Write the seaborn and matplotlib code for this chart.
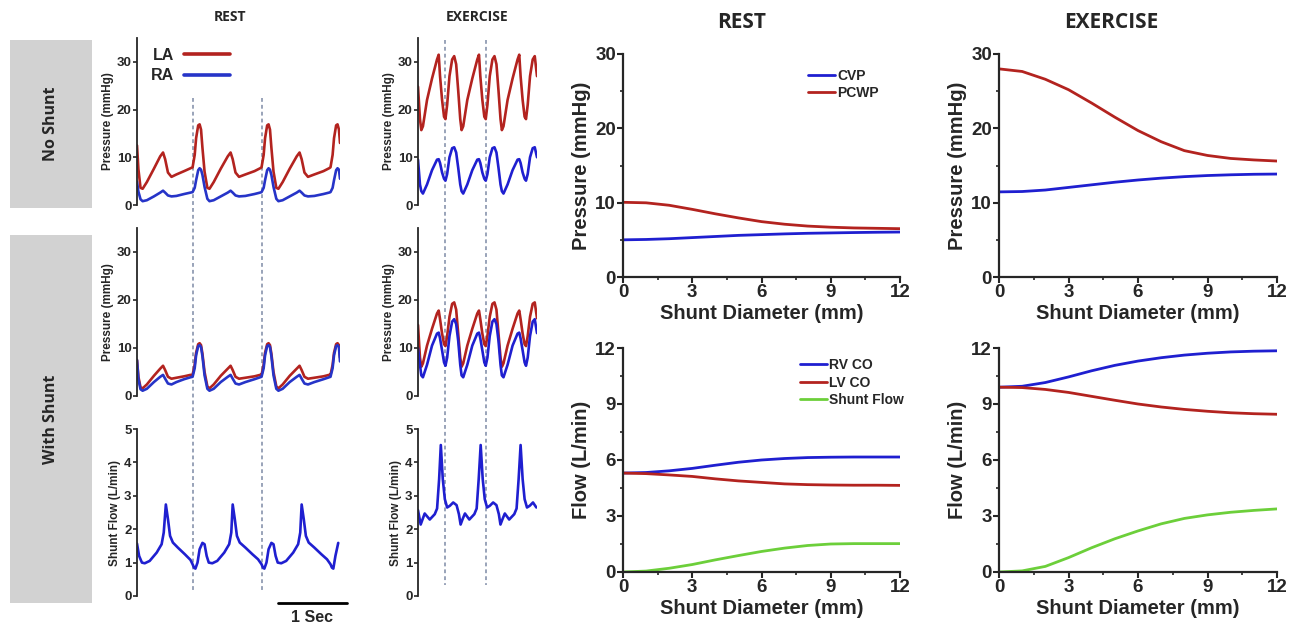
import matplotlib
matplotlib.use("Agg")
import matplotlib.pyplot as plt
import seaborn as sns
import numpy as np
from matplotlib.patches import Rectangle
from matplotlib.ticker import MultipleLocator

# ---------------- data ----------------
# REST waveforms (time in s)
rest_t = [0, .02, .05, .08, .14, .24, .33, .37, .40, .44, .49, .56, .67, .76,
          0.79, 0.82, 0.84, 0.87, 0.89, 0.91, 0.93, 0.96, 1.00, 1.03, 1.09, 1.19, 1.29, 1.33, 1.36, 1.40, 1.45, 1.54, 1.67, 1.75,
          1.77, 1.80, 1.82, 1.85, 1.87, 1.89, 1.91, 1.94, 1.98, 2.01, 2.07, 2.17, 2.27, 2.31, 2.34, 2.38, 2.43, 2.52, 2.65, 2.73,
          2.75, 2.78, 2.80, 2.83, 2.85, 2.87, 2.885]
rest_la_noshunt = [12.5, 7.5, 3.6, 3.4, 4.8, 7.6, 10.2, 11.0, 9.6, 6.8, 5.9, 6.4, 7.1, 7.7,
                   7.9, 10.5, 14.0, 16.7, 16.9, 15.8, 12.0, 7.0, 3.6, 3.4, 4.8, 7.6, 10.2, 11.0, 9.6, 6.8, 5.9, 6.4, 7.1, 7.7,
                   7.9, 10.5, 14.0, 16.7, 16.9, 15.8, 12.0, 7.0, 3.6, 3.4, 4.8, 7.6, 10.2, 11.0, 9.6, 6.8, 5.9, 6.4, 7.1, 7.7,
                   7.9, 10.5, 14.0, 16.7, 16.9, 15.8, 13.0]
rest_ra_noshunt = [4.9, 2.8, 1.2, 0.8, 1.0, 1.8, 2.6, 3.0, 2.6, 2.0, 1.8, 1.9, 2.3, 2.6,
                   2.7, 3.6, 5.2, 7.3, 7.7, 7.4, 6.3, 3.8, 1.3, 0.8, 1.0, 1.8, 2.6, 3.0, 2.6, 2.0, 1.8, 1.9, 2.3, 2.6,
                   2.7, 3.6, 5.2, 7.3, 7.7, 7.4, 6.3, 3.8, 1.3, 0.8, 1.0, 1.8, 2.6, 3.0, 2.6, 2.0, 1.8, 1.9, 2.3, 2.6,
                   2.7, 3.6, 5.2, 7.3, 7.7, 7.4, 5.5]
rest_la_shunt = [7.5, 4.0, 1.8, 1.6, 2.4, 4.2, 5.7, 6.3, 5.4, 4.0, 3.6, 3.8, 4.1, 4.4,
                 4.4, 6.5, 9.0, 10.8, 11.0, 10.6, 8.8, 5.0, 2.0, 1.6, 2.4, 4.2, 5.7, 6.3, 5.4, 4.0, 3.6, 3.8, 4.1, 4.4,
                 4.4, 6.5, 9.0, 10.8, 11.0, 10.6, 8.8, 5.0, 2.0, 1.6, 2.4, 4.2, 5.7, 6.3, 5.4, 4.0, 3.6, 3.8, 4.1, 4.4,
                 4.4, 6.5, 9.0, 10.8, 11.0, 10.6, 8.0]
rest_ra_shunt = [7.5, 3.5, 1.4, 1.1, 1.5, 2.9, 4.0, 4.4, 3.6, 2.6, 2.4, 2.9, 3.5, 3.9,
                 4.0, 5.8, 8.5, 10.4, 10.6, 10.2, 8.3, 4.3, 1.5, 1.1, 1.5, 2.9, 4.0, 4.4, 3.6, 2.6, 2.4, 2.9, 3.5, 3.9,
                 4.0, 5.8, 8.5, 10.4, 10.6, 10.2, 8.3, 4.3, 1.5, 1.1, 1.5, 2.9, 4.0, 4.4, 3.6, 2.6, 2.4, 2.9, 3.5, 3.9,
                 4.0, 5.8, 8.5, 10.4, 10.6, 10.2, 7.2]
rest_flow_t = [0, .03, .07, .11, .18, .28, .35, .38, .41, .44, .47, .51, .58, .68, .76,
               0.79, 0.81, 0.83, 0.86, 0.89, 0.93, 0.96, 0.99, 1.02, 1.07, 1.14, 1.24, 1.31, 1.34, 1.36, 1.39, 1.42, 1.46, 1.54, 1.64, 1.72,
               1.77, 1.79, 1.81, 1.84, 1.87, 1.91, 1.94, 1.97, 2.00, 2.05, 2.12, 2.22, 2.29, 2.32, 2.34, 2.37, 2.40, 2.44, 2.52, 2.62, 2.70,
               2.75, 2.77, 2.79, 2.82, 2.86]
rest_flow = [1.57, 1.2, 1.0, 0.98, 1.05, 1.3, 1.55, 1.9, 2.74, 2.3, 1.8, 1.6, 1.45, 1.25, 1.08,
             0.95, 0.85, 0.82, 1.0, 1.40, 1.59, 1.55, 1.2, 1.0, 0.98, 1.05, 1.3, 1.55, 1.9, 2.74, 2.3, 1.8, 1.6, 1.45, 1.25, 1.1,
             0.95, 0.85, 0.82, 1.0, 1.40, 1.59, 1.55, 1.2, 1.0, 0.98, 1.05, 1.3, 1.55, 1.9, 2.74, 2.3, 1.8, 1.6, 1.45, 1.25, 1.1,
             0.95, 0.85, 0.82, 1.2, 1.59]
rest_dashes = [0.79, 1.77]

# EXERCISE waveforms
ex_t = [0.000, 0.028, 0.047, 0.070, 0.128, 0.199, 0.270, 0.294, 0.313, 0.342, 0.370,
        0.390, 0.414, 0.447, 0.485, 0.514, 0.542, 0.571, 0.600, 0.619, 0.642, 0.700, 0.771, 0.842, 0.866, 0.885, 0.914, 0.942,
        0.962, 0.986, 1.019, 1.057, 1.086, 1.114, 1.143, 1.172, 1.191, 1.214, 1.272, 1.343, 1.414, 1.438, 1.457, 1.486, 1.514,
        1.534, 1.558, 1.591, 1.629, 1.658, 1.690]
ex_la_noshunt = [24.8, 18.0, 15.7, 16.5, 22.0, 26.5, 30.5, 31.5, 27.0, 22.0, 18.5,
                 18.0, 21.0, 27.0, 30.5, 31.2, 29.5, 24.0, 18.0, 15.7, 16.5, 22.0, 26.5, 30.5, 31.5, 27.0, 22.0, 18.5,
                 18.0, 21.0, 27.0, 30.5, 31.2, 29.5, 24.0, 18.0, 15.7, 16.5, 22.0, 26.5, 30.5, 31.5, 27.0, 22.0, 18.5,
                 18.0, 21.0, 27.0, 30.5, 31.2, 27.0]
ex_ra_noshunt = [9.5, 4.3, 2.9, 2.4, 4.3, 7.3, 9.5, 9.6, 8.8, 6.8, 5.5,
                 5.1, 6.5, 10.0, 11.9, 12.1, 11.0, 7.8, 4.3, 2.9, 2.4, 4.3, 7.3, 9.5, 9.6, 8.8, 6.8, 5.5,
                 5.1, 6.5, 10.0, 11.9, 12.1, 11.0, 7.8, 4.3, 2.9, 2.4, 4.3, 7.3, 9.5, 9.6, 8.8, 6.8, 5.5,
                 5.1, 6.5, 10.0, 11.9, 12.1, 10.0]
ex_la_shunt = [14.8, 8.0, 6.1, 6.8, 10.5, 14.0, 17.2, 17.8, 16.0, 13.0, 10.8,
               10.4, 12.5, 16.5, 19.2, 19.5, 18.0, 13.0, 8.0, 6.1, 6.8, 10.5, 14.0, 17.2, 17.8, 16.0, 13.0, 10.8,
               10.4, 12.5, 16.5, 19.2, 19.5, 18.0, 13.0, 8.0, 6.1, 6.8, 10.5, 14.0, 17.2, 17.8, 16.0, 13.0, 10.8,
               10.4, 12.5, 16.5, 19.2, 19.5, 16.2]
ex_ra_shunt = [10.0, 6.5, 4.3, 3.9, 6.5, 10.5, 13.0, 13.2, 12.0, 9.5, 7.0,
               6.3, 8.0, 12.5, 15.5, 16.0, 15.0, 11.5, 6.5, 4.3, 3.9, 6.5, 10.5, 13.0, 13.2, 12.0, 9.5, 7.0,
               6.3, 8.0, 12.5, 15.5, 16.0, 15.0, 11.5, 6.5, 4.3, 3.9, 6.5, 10.5, 13.0, 13.2, 12.0, 9.5, 7.0,
               6.3, 8.0, 12.5, 15.5, 16.0, 13.1]
ex_flow_t = [0.000, 0.038, 0.095, 0.167, 0.238, 0.271, 0.300, 0.324, 0.352, 0.381, 0.414, 0.452, 0.500, 0.548,
             0.581, 0.605, 0.633, 0.667, 0.729, 0.800, 0.833, 0.862, 0.890, 0.919, 0.948, 0.981, 1.019, 1.067,
             1.114, 1.148, 1.171, 1.200, 1.233, 1.295, 1.367, 1.400, 1.429, 1.457, 1.486, 1.514, 1.548, 1.586,
             1.633, 1.681]
ex_flow = [2.57, 2.14, 2.47, 2.29, 2.45, 2.62, 3.5, 4.52, 3.5, 2.9, 2.65, 2.70, 2.8, 2.72,
           2.45, 2.14, 2.3, 2.47, 2.29, 2.45, 2.62, 3.5, 4.52, 3.5, 2.9, 2.65, 2.70, 2.8,
           2.72, 2.45, 2.14, 2.3, 2.47, 2.29, 2.45, 2.62, 3.5, 4.52, 3.5, 2.9, 2.65, 2.70,
           2.8, 2.65]
ex_dashes = [0.390, 0.962]

# Steady-state vs shunt diameter
diam = [0, 1, 2, 3, 4, 5, 6, 7, 8, 9, 10, 11, 12]
rest_cvp = [5.0, 5.05, 5.15, 5.3, 5.45, 5.6, 5.7, 5.8, 5.88, 5.93, 5.98, 6.02, 6.05]
rest_pcwp = [10.05, 9.98, 9.65, 9.1, 8.5, 7.95, 7.45, 7.1, 6.85, 6.7, 6.6, 6.55, 6.5]
ex_cvp = [11.45, 11.5, 11.7, 12.05, 12.4, 12.75, 13.05, 13.3, 13.5, 13.65, 13.75, 13.82, 13.85]
ex_pcwp = [28.0, 27.65, 26.6, 25.2, 23.4, 21.5, 19.7, 18.2, 17.0, 16.35, 15.95, 15.75, 15.6]
rest_rvco = [5.3, 5.33, 5.42, 5.55, 5.72, 5.88, 6.0, 6.08, 6.13, 6.15, 6.16, 6.16, 6.16]
rest_lvco = [5.3, 5.27, 5.2, 5.12, 4.99, 4.88, 4.8, 4.72, 4.68, 4.66, 4.65, 4.65, 4.64]
rest_shuntflow = [0.0, 0.05, 0.2, 0.4, 0.65, 0.88, 1.1, 1.28, 1.42, 1.5, 1.52, 1.52, 1.52]
ex_rvco = [9.9, 9.95, 10.15, 10.45, 10.78, 11.07, 11.3, 11.48, 11.62, 11.72, 11.79, 11.83, 11.85]
ex_lvco = [9.9, 9.88, 9.78, 9.62, 9.41, 9.2, 9.0, 8.84, 8.71, 8.61, 8.53, 8.48, 8.45]
ex_shuntflow = [0.0, 0.06, 0.3, 0.77, 1.3, 1.78, 2.2, 2.58, 2.87, 3.06, 3.2, 3.3, 3.38]

wave_labels = ["LA", "RA"]
press_labels = ["CVP", "PCWP"]
flow_labels = ["RV CO", "LV CO", "Shunt Flow"]

# ---------------- style ----------------
sns.set_theme(style="ticks")
plt.rcParams["font.family"] = ["Liberation Sans", "DejaVu Sans"]
plt.rcParams["font.weight"] = "bold"
plt.rcParams["axes.labelweight"] = "bold"

RED = "#b3231f"
BLUE = "#2634c8"
BLUE2 = "#1f1fd0"
GREEN = "#6ccf3a"
DASH = "#7d8aa5"

W, H = 1298, 625
fig = plt.figure(figsize=(W / 100, H / 100), dpi=100)
fig.patch.set_facecolor("white")


def add_ax(x0, y0, x1, y1):
    return fig.add_axes([x0 / W, 1 - y1 / H, (x1 - x0) / W, (y1 - y0) / H])


def draw(ax, x, y, color, lw, label=None):
    sns.lineplot(x=x, y=y, ax=ax, color=color, lw=lw, label=label,
                 legend=False, sort=False, estimator=None)


# gray row labels
for (y0, y1, txt) in [(40, 208, "No Shunt"), (235, 603, "With Shunt")]:
    fig.add_artist(Rectangle((10 / W, 1 - y1 / H), 82 / W, (y1 - y0) / H,
                             transform=fig.transFigure, color="#d2d2d2", lw=0))
    fig.text(51 / W, 1 - (y0 + y1) / 2 / H, txt, rotation=90, ha="center", va="center",
             fontsize=11.5, fontweight="bold", family=["Open Sans", "DejaVu Sans"])

# column headers
fig.text(230 / W, 1 - 17 / H, "REST", ha="center", va="center", fontsize=10,
         fontweight="bold", family=["Open Sans", "DejaVu Sans"])
fig.text(477 / W, 1 - 17 / H, "EXERCISE", ha="center", va="center", fontsize=10,
         fontweight="bold", family=["Open Sans", "DejaVu Sans"])
fig.text(742 / W, 1 - 22 / H, "REST", ha="center", va="center", fontsize=15,
         fontweight="bold", family=["Open Sans", "DejaVu Sans"])
fig.text(1111 / W, 1 - 22 / H, "EXERCISE", ha="center", va="center", fontsize=15,
         fontweight="bold", family=["Open Sans", "DejaVu Sans"])

# dashed guide overlays (drawn first, underneath)
rest_x0, rest_x1, rest_xmax = 137, 340, 2.885
ex_x0, ex_x1, ex_xmax = 418, 537, 1.69

ov_r = add_ax(rest_x0, 30, rest_x1, 625)
ov_r.set_xlim(0, rest_xmax); ov_r.set_ylim(625, 30); ov_r.axis("off")
ov_r.vlines(rest_dashes, 98, 590, colors=DASH, linestyles=(0, (2.5, 2)), lw=1.1)
ov_r.plot([2.0, 2.98], [603, 603], color="black", lw=2, clip_on=False)
ov_r.text(2.49, 617, "1 Sec", ha="center", va="center", fontsize=11.5, fontweight="bold")

ov_e = add_ax(ex_x0, 30, ex_x1, 625)
ov_e.set_xlim(0, ex_xmax); ov_e.set_ylim(625, 30); ov_e.axis("off")
ov_e.vlines(ex_dashes, 40, 585, colors=DASH, linestyles=(0, (2.5, 2)), lw=1.1)


def style_left(ax, xmax, ylim, yticks, ylabel):
    ax.set_xlim(0, xmax)
    ax.set_ylim(*ylim)
    ax.set_yticks(yticks)
    ax.set_xticks([])
    for s in ["top", "right", "bottom"]:
        ax.spines[s].set_visible(False)
    ax.spines["left"].set_linewidth(1.3)
    ax.tick_params(axis="y", direction="out", length=3, width=1.2, labelsize=9.5, pad=1)
    ax.set_ylabel(ylabel, fontsize=8.5, labelpad=2)
    ax.set_xlabel("")
    ax.patch.set_alpha(0)


rows = [(38, 205), (228, 396), (429, 596)]

# REST waveforms
a1 = add_ax(rest_x0, rows[0][0], rest_x1, rows[0][1])
draw(a1, rest_t, rest_la_noshunt, RED, 1.9, wave_labels[0])
draw(a1, rest_t, rest_ra_noshunt, BLUE, 1.9, wave_labels[1])
style_left(a1, rest_xmax, (0, 35), [0, 10, 20, 30], "Pressure (mmHg)")
a1.legend(handles=a1.get_lines()[:2], labels=wave_labels, loc="upper left",
          bbox_to_anchor=(0.03, 0.99), frameon=False, markerfirst=False,
          handlelength=2.9, handletextpad=0.6, borderpad=0, labelspacing=0.35,
          prop={"size": 11.5, "weight": "bold"})
for l in a1.get_legend().get_lines():
    l.set_linewidth(2.6)

a2 = add_ax(rest_x0, rows[1][0], rest_x1, rows[1][1])
draw(a2, rest_t, rest_la_shunt, RED, 1.9)
draw(a2, rest_t, rest_ra_shunt, BLUE, 1.9)
style_left(a2, rest_xmax, (0, 35), [0, 10, 20, 30], "Pressure (mmHg)")

a3 = add_ax(rest_x0, rows[2][0], rest_x1, rows[2][1])
draw(a3, rest_flow_t, rest_flow, BLUE2, 1.9)
style_left(a3, rest_xmax, (0, 5), [0, 1, 2, 3, 4, 5], "Shunt Flow (L/min)")

# EXERCISE waveforms
b1 = add_ax(ex_x0, rows[0][0], ex_x1, rows[0][1])
draw(b1, ex_t, ex_la_noshunt, RED, 1.9)
draw(b1, ex_t, ex_ra_noshunt, BLUE2, 1.9)
style_left(b1, ex_xmax, (0, 35), [0, 10, 20, 30], "Pressure (mmHg)")

b2 = add_ax(ex_x0, rows[1][0], ex_x1, rows[1][1])
draw(b2, ex_t, ex_la_shunt, RED, 1.9)
draw(b2, ex_t, ex_ra_shunt, BLUE2, 1.9)
style_left(b2, ex_xmax, (0, 35), [0, 10, 20, 30], "Pressure (mmHg)")

b3 = add_ax(ex_x0, rows[2][0], ex_x1, rows[2][1])
draw(b3, ex_flow_t, ex_flow, BLUE2, 1.9)
style_left(b3, ex_xmax, (0, 5), [0, 1, 2, 3, 4, 5], "Shunt Flow (L/min)")


# right-hand summary panels
def style_right(ax, ymax, ystep, yminor, ylabel):
    ax.set_xlim(0, 12)
    ax.set_ylim(0, ymax)
    ax.xaxis.set_major_locator(MultipleLocator(3))
    ax.xaxis.set_minor_locator(MultipleLocator(1.5))
    ax.yaxis.set_major_locator(MultipleLocator(ystep))
    ax.yaxis.set_minor_locator(MultipleLocator(yminor))
    for s in ["top", "right"]:
        ax.spines[s].set_visible(False)
    for s in ["left", "bottom"]:
        ax.spines[s].set_linewidth(1.6)
    ax.tick_params(which="major", direction="out", length=4, width=1.5, labelsize=13.5, pad=1)
    ax.tick_params(which="minor", direction="out", length=2.5, width=1.2)
    ax.set_xlabel("Shunt Diameter (mm)", fontsize=14.5, labelpad=2)
    ax.set_ylabel(ylabel, fontsize=14.5, labelpad=3)
    ax.patch.set_alpha(0)


def small_legend(ax, labels, anchor):
    lg = ax.legend(handles=ax.get_lines()[:len(labels)], labels=labels, loc="upper right",
                   bbox_to_anchor=anchor, frameon=False, handlelength=1.9,
                   handletextpad=0.2, borderpad=0, labelspacing=0.25,
                   prop={"size": 10, "weight": "bold"})
    lg._legend_box.align = "left"


rx = [(623, 900), (999, 1277)]
ry = [(54, 277), (348, 572)]

c1 = add_ax(rx[0][0], ry[0][0], rx[0][1], ry[0][1])
draw(c1, diam, rest_cvp, BLUE2, 2.0, press_labels[0])
draw(c1, diam, rest_pcwp, RED, 2.0, press_labels[1])
style_right(c1, 30, 10, 5, "Pressure (mmHg)")
small_legend(c1, press_labels, (0.95, 0.965))

d1 = add_ax(rx[1][0], ry[0][0], rx[1][1], ry[0][1])
draw(d1, diam, ex_cvp, BLUE2, 2.0)
draw(d1, diam, ex_pcwp, RED, 2.0)
style_right(d1, 30, 10, 5, "Pressure (mmHg)")

c2 = add_ax(rx[0][0], ry[1][0], rx[0][1], ry[1][1])
draw(c2, diam, rest_rvco, BLUE2, 2.0, flow_labels[0])
draw(c2, diam, rest_lvco, RED, 2.0, flow_labels[1])
draw(c2, diam, rest_shuntflow, GREEN, 2.0, flow_labels[2])
style_right(c2, 12, 3, 1.5, "Flow (L/min)")
small_legend(c2, flow_labels, (1.04, 0.985))

d2 = add_ax(rx[1][0], ry[1][0], rx[1][1], ry[1][1])
draw(d2, diam, ex_rvco, BLUE2, 2.0)
draw(d2, diam, ex_lvco, RED, 2.0)
draw(d2, diam, ex_shuntflow, GREEN, 2.0)
style_right(d2, 12, 3, 1.5, "Flow (L/min)")

fig.savefig("out.png", dpi=100, facecolor="white")
